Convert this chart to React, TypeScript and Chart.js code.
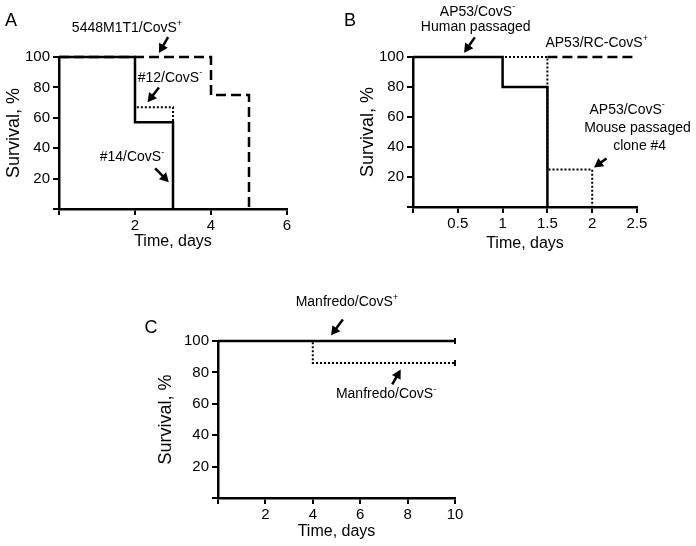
import React, { useEffect, useRef } from 'react';
import { Chart, registerables } from 'chart.js';
Chart.register(...registerables);

const FONT = "'Liberation Sans', Arial, Helvetica, sans-serif";

// ---------- Panel A ----------
const aTicksX = [0, 2, 4, 6];
const aTicksY = [0, 20, 40, 60, 80, 100];
const aClone14Time = [0, 2, 3];
const aClone14Surv = [100, 57, 0];
const aClone12Time = [0, 2, 3];
const aClone12Surv = [100, 67, 0];
const aParentTime = [0, 4, 5];
const aParentSurv = [100, 75, 0];

// ---------- Panel B ----------
const bTicksX = [0, 0.5, 1, 1.5, 2, 2.5];
const bTicksY = [0, 20, 40, 60, 80, 100];
const bHumanTime = [0, 1, 1.5];
const bHumanSurv = [100, 80, 0];
const bMouseTime = [0, 1.5, 2];
const bMouseSurv = [100, 25, 0];
const bRcTime = [1.5, 2.5];
const bRcSurv = [100, 100];

// ---------- Panel C ----------
const cTicksX = [0, 2, 4, 6, 8, 10];
const cTicksY = [0, 20, 40, 60, 80, 100];
const cPlusTime = [0, 10];
const cPlusSurv = [100, 100];
const cMinusTime = [0, 4, 10];
const cMinusSurv = [100, 86, 86];

type Part = { t: string; sup?: boolean };
type Label = { x: number; y: number; parts: Part[] };
type Arrow = { x1: number; y1: number; x2: number; y2: number };

const aLabels: Label[] = [
  { x: 1.79, y: 119, parts: [{ t: '5448M1T1/CovS' }, { t: '+', sup: true }] },
  { x: 2.92, y: 86.2, parts: [{ t: '#12/CovS' }, { t: '-', sup: true }] },
  { x: 1.92, y: 34.2, parts: [{ t: '#14/CovS' }, { t: '-', sup: true }] },
];
const aArrows: Arrow[] = [
  { x1: 2.87, y1: 113, x2: 2.63, y2: 102.6 },
  { x1: 2.63, y1: 80, x2: 2.33, y2: 70.2 },
  { x1: 2.53, y1: 26.8, x2: 2.89, y2: 17.6 },
];
const bLabels: Label[] = [
  { x: 0.72, y: 130, parts: [{ t: 'AP53/CovS' }, { t: '-', sup: true }] },
  { x: 0.7, y: 120, parts: [{ t: 'Human passaged' }] },
  { x: 2.05, y: 109.3, parts: [{ t: 'AP53/RC-CovS' }, { t: '+', sup: true }] },
  { x: 2.39, y: 64.7, parts: [{ t: 'AP53/CovS' }, { t: '-', sup: true }] },
  { x: 2.505, y: 52.7, parts: [{ t: 'Mouse passaged' }] },
  { x: 2.53, y: 40.7, parts: [{ t: 'clone #4' }] },
];
const bArrows: Arrow[] = [
  { x1: 0.69, y1: 113.1, x2: 0.57, y2: 102.9 },
  { x1: 2.16, y1: 32.4, x2: 2.02, y2: 26.4 },
];
const cLabels: Label[] = [
  { x: 5.44, y: 124.6, parts: [{ t: 'Manfredo/CovS' }, { t: '+', sup: true }] },
  { x: 7.09, y: 65.9, parts: [{ t: 'Manfredo/CovS' }, { t: '-', sup: true }] },
];
const cArrows: Arrow[] = [
  { x1: 5.27, y1: 113.7, x2: 4.77, y2: 103.6 },
  { x1: 7.35, y1: 72.3, x2: 7.71, y2: 81.8 },
];

type Style = 'solid' | 'dotted' | 'dashed';

function series(times: number[], surv: number[], style: Style, censor = false) {
  return {
    data: times.map((t, i) => ({ x: t, y: surv[i] })),
    stepped: 'before' as const,
    borderColor: '#000',
    borderWidth: style === 'dotted' ? 2 : 2.5,
    borderDash: style === 'dotted' ? [2, 2] : style === 'dashed' ? [10, 5] : [],
    pointRadius: times.map((_, i) => (censor && i === times.length - 1 ? 3 : 0)),
    pointStyle: 'line' as const,
    rotation: 90,
    pointBorderWidth: 2,
    pointBorderColor: '#000',
    fill: false,
    clip: false as const,
  };
}

function drawRich(ctx: CanvasRenderingContext2D, parts: Part[], cx: number, cy: number) {
  const base = `14px ${FONT}`;
  const sup = `9px ${FONT}`;
  let total = 0;
  const widths = parts.map((p) => {
    ctx.font = p.sup ? sup : base;
    const w = ctx.measureText(p.t).width;
    total += w;
    return w;
  });
  let x = cx - total / 2;
  parts.forEach((p, i) => {
    ctx.font = p.sup ? sup : base;
    ctx.textAlign = 'left';
    ctx.textBaseline = 'middle';
    ctx.fillText(p.t, x, p.sup ? cy - 5 : cy);
    x += widths[i];
  });
}

function drawArrow(ctx: CanvasRenderingContext2D, x1: number, y1: number, x2: number, y2: number) {
  const ang = Math.atan2(y2 - y1, x2 - x1);
  const hl = 9;
  const hw = 5;
  const c = Math.cos(ang);
  const s = Math.sin(ang);
  const bx = x2 - c * hl;
  const by = y2 - s * hl;
  ctx.lineWidth = 2.5;
  ctx.beginPath();
  ctx.moveTo(x1, y1);
  ctx.lineTo(bx + c * 2, by + s * 2);
  ctx.stroke();
  ctx.beginPath();
  ctx.moveTo(x2, y2);
  ctx.lineTo(bx - s * hw, by + c * hw);
  ctx.lineTo(bx + s * hw, by - c * hw);
  ctx.closePath();
  ctx.fill();
}

type Spec = {
  left: number; top: number; w: number; h: number;
  pad: { left: number; top: number; right: number; bottom: number };
  yWidth: number; xHeight: number;
  xMax: number; xTicks: number[]; yTicks: number[];
  datasets: any[];
  labels: Label[]; arrows: Arrow[];
  letter: { text: string; x: number; y: number };
};

function buildConfig(spec: Spec): any {
  const annot = {
    id: 'annot',
    afterDraw(chart: any) {
      const ctx: CanvasRenderingContext2D = chart.ctx;
      const xs = chart.scales.x;
      const ys = chart.scales.y;
      ctx.save();
      ctx.fillStyle = '#000';
      ctx.strokeStyle = '#000';
      spec.labels.forEach((l) => drawRich(ctx, l.parts, xs.getPixelForValue(l.x), ys.getPixelForValue(l.y)));
      spec.arrows.forEach((a) =>
        drawArrow(ctx, xs.getPixelForValue(a.x1), ys.getPixelForValue(a.y1), xs.getPixelForValue(a.x2), ys.getPixelForValue(a.y2))
      );
      ctx.font = `18px ${FONT}`;
      ctx.textAlign = 'center';
      ctx.textBaseline = 'middle';
      ctx.fillText(spec.letter.text, spec.letter.x, spec.letter.y);
      ctx.restore();
    },
  };
  return {
    type: 'line',
    data: { datasets: spec.datasets },
    plugins: [annot],
    options: {
      animation: false,
      responsive: false,
      events: [],
      layout: { padding: spec.pad },
      plugins: { legend: { display: false }, tooltip: { enabled: false } },
      scales: {
        x: {
          type: 'linear',
          min: 0,
          max: spec.xMax,
          afterBuildTicks: (s: any) => { s.ticks = spec.xTicks.map((v) => ({ value: v })); },
          afterFit: (s: any) => { s.height = spec.xHeight; },
          ticks: {
            color: '#000', font: { family: FONT, size: 15 }, padding: 2, maxRotation: 0, autoSkip: false,
            callback: (v: number) => (v === 0 ? '' : String(v)),
          },
          grid: { drawOnChartArea: false, drawTicks: true, tickLength: 6, color: '#000', lineWidth: 2 },
          border: { display: true, color: '#000', width: 2.5 },
          title: { display: true, text: 'Time, days', color: '#000', font: { family: FONT, size: 16 }, padding: { top: 0, bottom: 0 } },
        },
        y: {
          type: 'linear',
          min: 0,
          max: 100,
          afterBuildTicks: (s: any) => { s.ticks = spec.yTicks.map((v) => ({ value: v })); },
          afterFit: (s: any) => { s.width = spec.yWidth; },
          ticks: {
            color: '#000', font: { family: FONT, size: 15 }, padding: 3,
            callback: (v: number) => (v === 0 ? '' : String(v)),
          },
          grid: { drawOnChartArea: false, drawTicks: true, tickLength: 6, color: '#000', lineWidth: 2 },
          border: { display: true, color: '#000', width: 2.5 },
          title: { display: true, text: 'Survival, %', color: '#000', font: { family: FONT, size: 18 }, padding: { top: 3, bottom: 0 } },
        },
      },
    },
  };
}

const specs: Spec[] = [
  {
    left: 0, top: 0, w: 340, h: 260,
    pad: { left: 0, top: 57, right: 53, bottom: 9 },
    yWidth: 59, xHeight: 42,
    xMax: 6, xTicks: aTicksX, yTicks: aTicksY,
    datasets: [
      series(aClone14Time, aClone14Surv, 'solid'),
      series(aClone12Time, aClone12Surv, 'dotted'),
      series(aParentTime, aParentSurv, 'dashed'),
    ],
    labels: aLabels, arrows: aArrows,
    letter: { text: 'A', x: 11, y: 21.5 },
  },
  {
    left: 340, top: 0, w: 356, h: 260,
    pad: { left: 14, top: 57, right: 59, bottom: 7 },
    yWidth: 59, xHeight: 46,
    xMax: 2.5, xTicks: bTicksX, yTicks: bTicksY,
    datasets: [
      series(bHumanTime, bHumanSurv, 'solid'),
      series(bMouseTime, bMouseSurv, 'dotted'),
      series(bRcTime, bRcSurv, 'dashed'),
    ],
    labels: bLabels, arrows: bArrows,
    letter: { text: 'B', x: 10, y: 21.5 },
  },
  {
    left: 140, top: 270, w: 360, h: 276,
    pad: { left: 12, top: 71, right: 45, bottom: 5 },
    yWidth: 66, xHeight: 43,
    xMax: 10, xTicks: cTicksX, yTicks: cTicksY,
    datasets: [
      series(cPlusTime, cPlusSurv, 'solid', true),
      series(cMinusTime, cMinusSurv, 'dotted', true),
    ],
    labels: cLabels, arrows: cArrows,
    letter: { text: 'C', x: 11, y: 58 },
  },
];

function Panel({ spec }: { spec: Spec }) {
  const ref = useRef<HTMLCanvasElement>(null);
  useEffect(() => {
    const chart = new Chart(ref.current as HTMLCanvasElement, buildConfig(spec));
    return () => chart.destroy();
  }, []);
  return (
    <canvas
      ref={ref}
      width={spec.w}
      height={spec.h}
      style={{ position: 'absolute', left: spec.left, top: spec.top, width: spec.w, height: spec.h }}
    />
  );
}

export default function App() {
  return (
    <div style={{ position: 'fixed', left: 0, top: 0, width: 696, height: 546, background: '#fff', overflow: 'hidden' }}>
      {specs.map((s, i) => (
        <Panel key={i} spec={s} />
      ))}
    </div>
  );
}
